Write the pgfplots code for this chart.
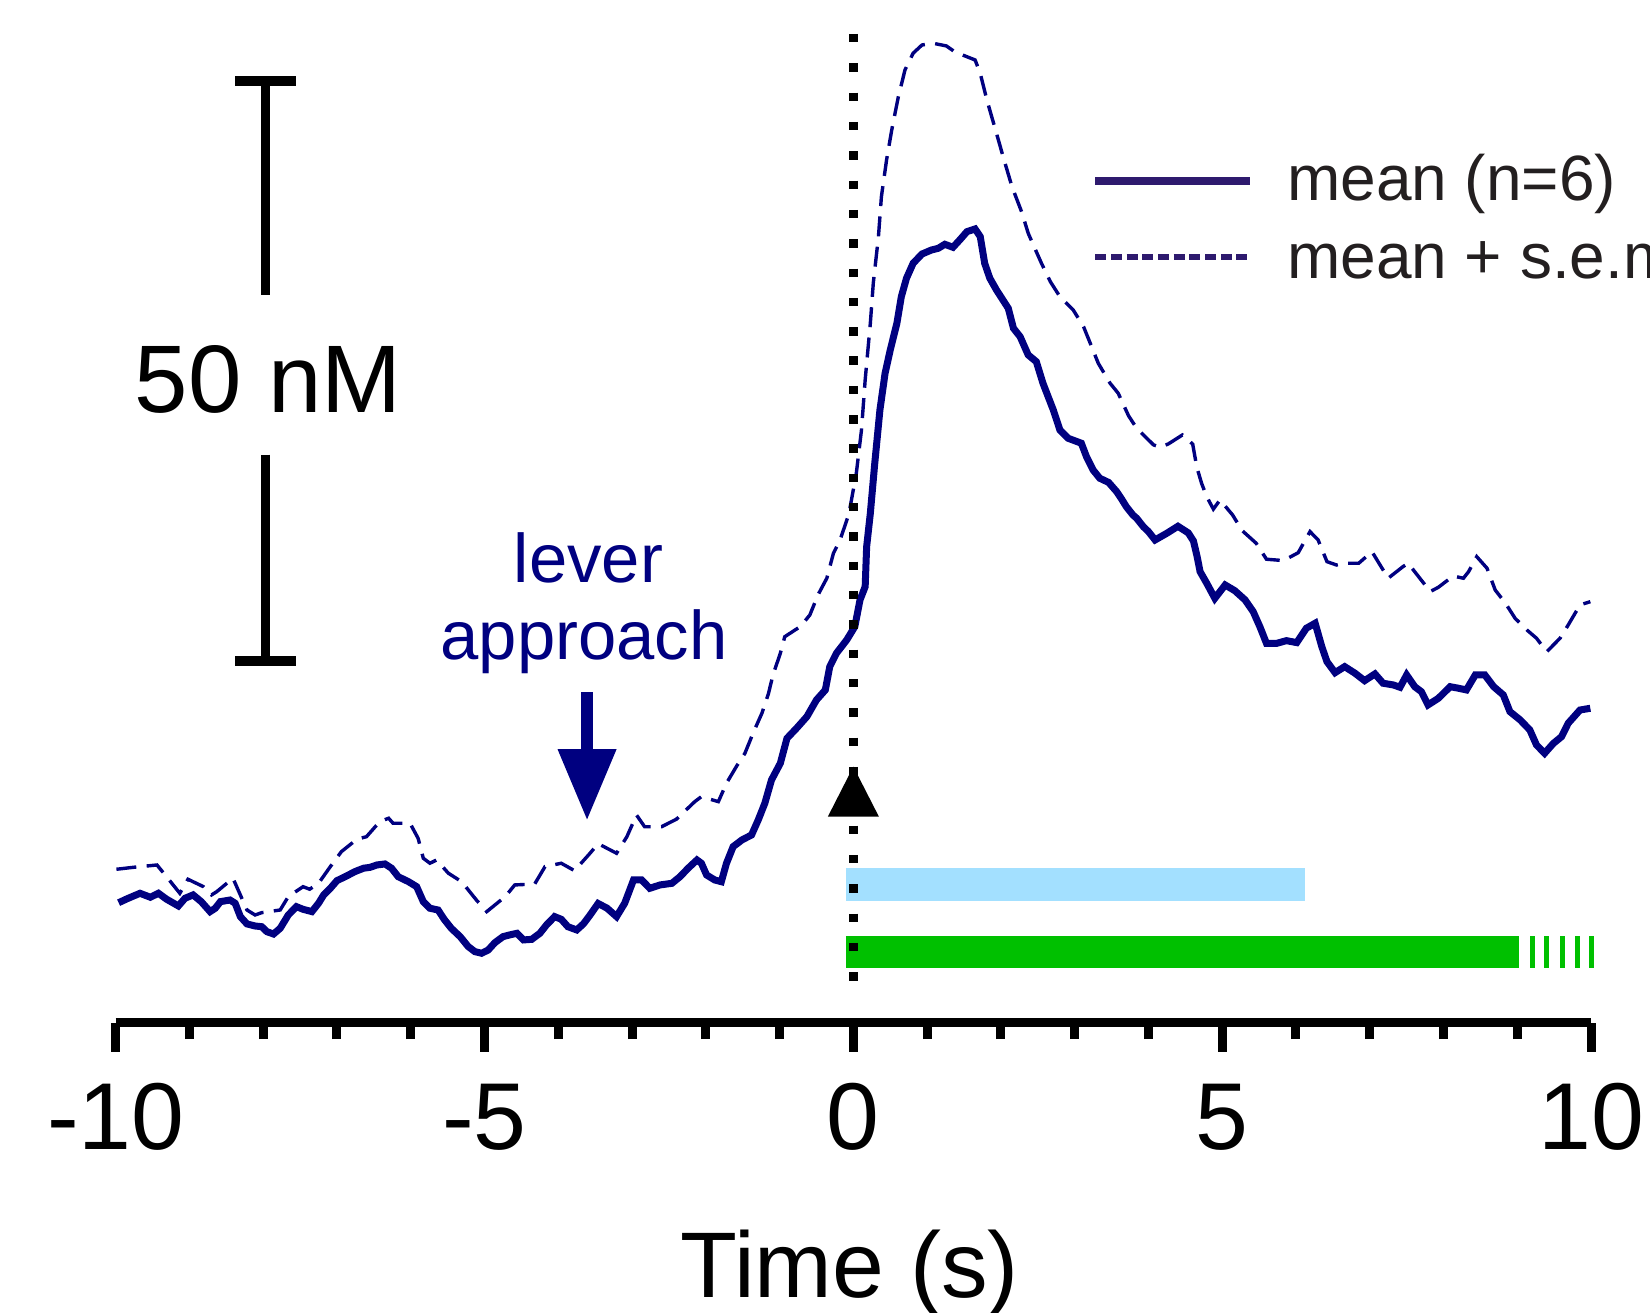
\documentclass[border=0pt]{standalone}
\usepackage{pgfplots}
\pgfplotsset{compat=1.18}
\usepackage{fontspec}
\setmainfont{Liberation Sans}
\definecolor{curve}{RGB}{0,0,128}
\definecolor{leg}{RGB}{46,26,110}
\definecolor{lblue}{RGB}{163,224,255}
\definecolor{dgreen}{RGB}{0,192,0}
\definecolor{txt}{RGB}{35,31,32}

\pgfplotstableread{
t v
-9.96 10.17
-9.83 10.55
-9.67 10.98
-9.53 10.64
-9.42 10.98
-9.31 10.47
-9.15 9.89
-9.06 10.55
-8.95 10.84
-8.84 10.26
-8.72 9.40
-8.65 9.69
-8.58 10.26
-8.45 10.40
-8.38 10.12
-8.31 8.97
-8.22 8.34
-8.11 8.16
-8.02 8.10
-7.95 7.67
-7.86 7.47
-7.77 7.96
-7.66 9.11
-7.55 9.83
-7.46 9.60
-7.34 9.40
-7.25 10.12
-7.18 10.84
-7.09 11.41
-7.00 12.07
-6.87 12.47
-6.76 12.84
-6.64 13.14
-6.55 13.22
-6.46 13.42
-6.35 13.51
-6.26 13.14
-6.17 12.41
-6.03 11.98
-5.92 11.55
-5.83 10.26
-5.74 9.69
-5.63 9.54
-5.54 8.68
-5.45 7.96
-5.33 7.24
-5.22 6.38
-5.13 5.95
-5.04 5.81
-4.95 6.09
-4.86 6.72
-4.75 7.24
-4.66 7.39
-4.56 7.53
-4.47 6.96
-4.36 7.01
-4.25 7.53
-4.16 8.25
-4.05 8.97
-3.96 8.74
-3.87 8.10
-3.75 7.82
-3.66 8.34
-3.57 9.10
-3.46 10.10
-3.34 9.70
-3.21 8.97
-3.10 10.12
-2.98 12.13
-2.87 12.13
-2.76 11.41
-2.62 11.70
-2.46 11.84
-2.35 12.41
-2.24 13.14
-2.12 13.85
-2.06 13.57
-1.99 12.56
-1.88 12.13
-1.79 11.98
-1.72 13.57
-1.63 15.00
-1.51 15.58
-1.38 16.01
-1.29 17.30
-1.20 18.74
-1.11 20.75
-0.99 22.19
-0.90 24.34
-0.77 25.21
-0.63 26.21
-0.50 27.65
-0.38 28.51
-0.32 30.52
-0.23 31.67
-0.09 32.82
0.02 33.97
0.09 36.27
0.16 37.41
0.18 40.86
0.23 43.74
0.29 48.05
0.36 52.65
0.43 55.81
0.50 57.82
0.59 60.12
0.65 62.41
0.72 64.00
0.81 65.29
0.93 66.09
1.06 66.44
1.15 66.58
1.24 66.93
1.35 66.67
1.45 67.36
1.54 68.02
1.65 68.25
1.72 67.59
1.78 65.29
1.85 64.00
1.94 62.99
2.10 61.41
2.17 59.69
2.26 58.97
2.37 57.39
2.48 56.81
2.57 54.95
2.71 52.65
2.80 50.92
2.91 50.21
3.09 49.78
3.16 48.62
3.25 47.47
3.34 46.76
3.46 46.40
3.57 45.60
3.63 45.03
3.70 44.31
3.79 43.59
3.84 43.31
3.93 42.59
4.00 42.16
4.09 41.44
4.25 42.02
4.40 42.62
4.54 42.05
4.61 41.35
4.66 40.00
4.70 38.71
4.79 37.71
4.90 36.41
5.04 37.56
5.17 37.07
5.31 36.27
5.42 35.26
5.51 33.97
5.60 32.53
5.74 32.53
5.87 32.76
6.01 32.59
6.14 33.83
6.26 34.26
6.35 32.24
6.42 30.95
6.53 30.00
6.66 30.52
6.80 29.95
6.93 29.31
7.07 29.89
7.18 29.09
7.32 28.94
7.41 28.74
7.50 29.80
7.61 28.79
7.70 28.36
7.79 27.22
7.93 27.79
8.09 28.79
8.20 28.66
8.31 28.51
8.43 29.80
8.56 29.80
8.68 28.79
8.81 28.08
8.90 26.64
9.04 25.92
9.17 25.06
9.26 23.77
9.37 23.05
9.49 23.91
9.60 24.48
9.69 25.64
9.85 26.78
9.99 26.93
}\meandata

\pgfplotstableread{
t v
-9.99 13.05
-9.76 13.22
-9.44 13.42
-9.31 12.41
-9.13 10.98
-9.02 12.19
-8.81 11.55
-8.70 10.84
-8.63 11.12
-8.41 12.28
-8.34 11.27
-8.22 9.54
-8.11 9.11
-8.02 9.31
-7.77 9.54
-7.66 10.69
-7.46 11.55
-7.37 11.33
-7.25 11.84
-7.09 13.28
-6.94 14.57
-6.73 15.64
-6.60 15.86
-6.42 17.16
-6.30 17.45
-6.24 17.02
-6.01 17.02
-5.90 15.72
-5.83 14.00
-5.74 13.57
-5.65 13.85
-5.49 12.71
-5.31 11.98
-5.11 10.40
-4.97 9.40
-4.72 10.69
-4.59 11.70
-4.32 11.78
-4.18 13.28
-3.96 13.57
-3.78 12.93
-3.57 14.43
-3.46 15.26
-3.21 14.43
-3.07 15.86
-2.94 17.73
-2.83 16.72
-2.60 16.72
-2.40 17.36
-2.15 18.88
-2.06 19.31
-1.83 18.88
-1.72 20.47
-1.58 21.97
-1.47 23.05
-1.36 24.78
-1.24 26.50
-1.15 28.22
-1.09 29.80
-0.99 31.67
-0.93 33.10
-0.72 33.97
-0.59 34.97
-0.48 36.70
-0.36 38.14
-0.27 40.30
-0.18 41.44
-0.06 43.70
0.04 47.19
0.11 50.92
0.16 55.23
0.23 60.12
0.27 63.57
0.34 67.59
0.38 71.03
0.45 74.20
0.52 76.78
0.61 79.66
0.70 81.96
0.81 83.40
0.93 84.11
1.08 84.26
1.26 84.03
1.38 83.50
1.65 82.82
1.72 81.67
1.81 79.37
1.94 76.50
2.03 74.48
2.15 71.90
2.28 69.74
2.37 67.88
2.48 66.29
2.55 65.29
2.67 63.71
2.80 62.41
2.98 61.27
3.12 59.83
3.23 58.10
3.32 56.67
3.48 54.95
3.59 54.09
3.73 52.15
3.84 51.07
4.07 49.63
4.16 49.43
4.27 49.72
4.46 50.49
4.60 49.70
4.63 48.62
4.66 47.62
4.72 46.33
4.79 45.17
4.88 44.10
4.97 44.89
5.14 43.60
5.27 42.25
5.46 41.16
5.60 39.78
5.83 39.66
6.03 40.34
6.19 42.16
6.30 41.44
6.42 39.57
6.55 39.28
6.64 39.43
6.85 39.43
7.03 40.43
7.14 39.28
7.25 38.14
7.45 39.14
7.52 39.43
7.75 37.56
7.82 36.99
7.93 37.36
8.13 38.33
8.27 38.14
8.34 38.71
8.45 40.00
8.59 39.00
8.70 37.13
8.84 35.98
8.97 34.69
9.13 33.68
9.26 32.97
9.40 31.81
9.58 32.97
9.69 34.11
9.85 35.84
9.99 36.12
}\semdata

\begin{document}
\begin{tikzpicture}
\begin{axis}[
  scale only axis,
  width=368.85pt, height=255.69pt,
  xmin=-10, xmax=10, ymin=-0.17, ymax=88,
  clip=false,
  axis y line=none,
  axis x line*=bottom,
  x axis line style={line width=2.25pt, black},
  xtick={-10,-5,0,5,10},
  xticklabels={-10,-5,0,5,10},
  minor xtick={-9,-8,-7,-6,-4,-3,-2,-1,1,2,3,4,6,7,8,9},
  tick align=outside,
  major tick length=7.25pt,
  minor tick length=4.1pt,
  every tick/.style={black, line width=2.25pt},
  xticklabel style={font=\fontsize{23.75}{28}\selectfont, anchor=base, yshift=-24.4pt},
  xlabel={Time (s)},
  xlabel style={at={(axis description cs:0.4975,-0.2689)}, anchor=base, font=\fontsize{23.3}{28}\selectfont, inner sep=0pt},
]
% event bars
\addplot[lblue, line width=8.25pt, forget plot] coordinates {(-0.1,11.74) (6.12,11.74)};
\addplot[dgreen, line width=8pt, forget plot] coordinates {(-0.1,5.92) (9.02,5.92)};
\addplot[dgreen, line width=1.25pt, forget plot] coordinates {(9.21,4.54) (9.21,7.30)};
\addplot[dgreen, line width=1.25pt, forget plot] coordinates {(9.40,4.54) (9.40,7.30)};
\addplot[dgreen, line width=1.25pt, forget plot] coordinates {(9.61,4.54) (9.61,7.30)};
\addplot[dgreen, line width=1.25pt, forget plot] coordinates {(9.81,4.54) (9.81,7.30)};
\addplot[dgreen, line width=1.25pt, forget plot] coordinates {(10.01,4.54) (10.01,7.30)};
% curves
\addplot[curve, line width=0.85pt, dash pattern=on 5pt off 2.6pt, forget plot] table[x=t,y=v] {\semdata};
\addplot[curve, line width=1.75pt, forget plot] table[x=t,y=v] {\meandata};
% event line at 0
\addplot[black, line width=2.33pt, dash pattern=on 2.1pt off 5.23pt, forget plot] coordinates {(0,85.06) (0,2.3)};
\fill[black] (axis cs:-0.345,17.6) -- (axis cs:0.345,17.6) -- (axis cs:0,21.9) -- cycle;
% scale bar
\draw[black, line width=2.3pt] (axis cs:-7.968,81.0) -- (axis cs:-7.968,62.6);
\draw[black, line width=2.3pt] (axis cs:-7.968,48.8) -- (axis cs:-7.968,31.0);
\draw[black, line width=2.3pt] (axis cs:-8.38,81.0) -- (axis cs:-7.56,81.0);
\draw[black, line width=2.3pt] (axis cs:-8.38,31.0) -- (axis cs:-7.56,31.0);
\node[anchor=base, inner sep=0pt, font=\fontsize{24}{28}\selectfont] at (axis cs:-7.93,52.4) {50 nM};
% lever approach
\node[anchor=base, inner sep=0pt, text=curve, font=\fontsize{17.2}{20}\selectfont] at (axis cs:-3.59,37.8) {lever};
\node[anchor=base, inner sep=0pt, text=curve, font=\fontsize{17.2}{20}\selectfont] at (axis cs:-3.65,31.1) {approach};
\draw[curve, line width=2.85pt] (axis cs:-3.61,28.3) -- (axis cs:-3.61,23.3);
\fill[curve] (axis cs:-4.01,23.4) -- (axis cs:-3.21,23.4) -- (axis cs:-3.61,17.35) -- cycle;
% legend
\draw[leg, line width=2.1pt] (axis cs:3.28,72.4) -- (axis cs:5.378,72.4);
\draw[leg, line width=1.5pt, dash pattern=on 2.75pt off 1.17pt] (axis cs:3.28,65.8) -- (axis cs:5.378,65.8);
\node[anchor=base west, inner sep=0pt, text=txt, font=\fontsize{16}{19}\selectfont] at (axis cs:5.87,70.7) {mean (n=6)};
\node[anchor=base west, inner sep=0pt, text=txt, font=\fontsize{16}{19}\selectfont] at (axis cs:5.87,64.0) {mean + s.e.m.};
% page frame
\coordinate (BL) at (axis cs:-11.568,-25.198);
\coordinate (TR) at (axis cs:10.799,87.99);
\end{axis}
\pgfresetboundingbox
\path[use as bounding box] (BL) rectangle (TR);
\end{tikzpicture}
\end{document}
